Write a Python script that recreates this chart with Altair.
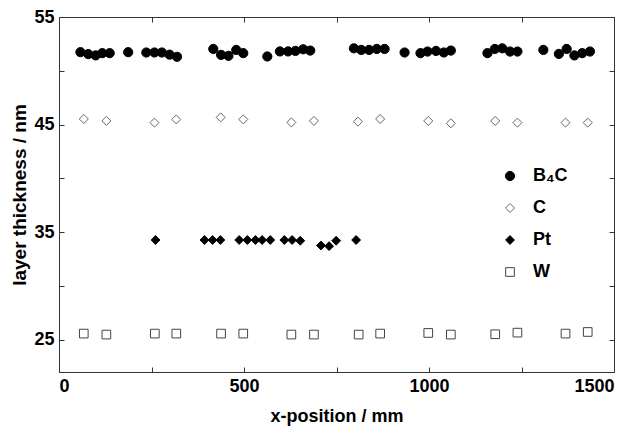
import altair as alt
import pandas as pd

# ---- data ----
b4c_x = [58, 79, 99, 117, 137, 187, 236, 258, 278, 299, 319,
         417, 438, 458, 479, 498, 563, 597, 619, 639, 660, 679,
         797, 817, 838, 859, 880, 934, 977, 996, 1019, 1040, 1059,
         1158, 1178, 1198, 1219, 1239, 1309, 1351, 1372, 1393, 1414, 1435]
b4c_y = [51.73, 51.55, 51.43, 51.64, 51.64, 51.73, 51.70, 51.70, 51.70, 51.50, 51.30,
         52.03, 51.48, 51.39, 51.94, 51.64, 51.33, 51.80, 51.80, 51.85, 52.00, 51.88,
         52.09, 51.94, 51.94, 52.03, 52.03, 51.70, 51.64, 51.79, 51.85, 51.70, 51.88,
         51.64, 52.03, 52.09, 51.79, 51.79, 51.94, 51.57, 52.03, 51.43, 51.64, 51.79]

c_x = [67, 128, 258, 317, 437, 498, 628, 689, 808, 868, 998, 1059, 1179, 1239, 1369, 1429]
c_y = [45.52, 45.34, 45.18, 45.48, 45.67, 45.48, 45.20, 45.34,
       45.27, 45.52, 45.34, 45.12, 45.34, 45.18, 45.18, 45.18]

pt_x = [261, 393, 415, 436, 487, 509, 531, 549, 571, 609, 630, 652, 708, 730, 749, 803]
pt_y = [34.27, 34.27, 34.27, 34.27, 34.27, 34.27, 34.27, 34.27, 34.27, 34.27, 34.27, 34.20,
        33.76, 33.70, 34.20, 34.27]

w_x = [67, 128, 259, 317, 438, 498, 628, 689, 810, 868, 998, 1059, 1179, 1239, 1369, 1429]
w_y = [25.57, 25.48, 25.57, 25.57, 25.57, 25.57, 25.48, 25.48,
       25.48, 25.57, 25.63, 25.48, 25.51, 25.66, 25.57, 25.72]

series = ["B\u2084C", "C", "Pt", "W"]
x_label_values = [0, 500, 1000, 1500]
x_tick_values = [0, 250, 500, 750, 1000, 1250, 1500]
y_label_values = [25, 35, 45, 55]
y_tick_values = [25, 30, 35, 40, 45, 50, 55]

rows = []
for name, xs, ys in zip(series, [b4c_x, c_x, pt_x, w_x], [b4c_y, c_y, pt_y, w_y]):
    for a, b in zip(xs, ys):
        rows.append({"series": name, "x": a, "y": b})
df = pd.DataFrame(rows)

W, H = 555, 355
FONT = "Liberation Sans"
xscale = alt.Scale(domain=[0, 1500], nice=False, zero=False)
yscale = alt.Scale(domain=[22, 55], nice=False, zero=False)

main = alt.Chart(df).mark_point(opacity=1, strokeWidth=1).encode(
    x=alt.X("x:Q", scale=xscale, axis=alt.Axis(
        orient="bottom", values=x_label_values, ticks=False, domain=False, grid=False,
        title="x-position / mm", labelFont=FONT, labelFontSize=18, labelFontWeight="bold",
        labelColor="black", labelPadding=5, titleFont=FONT, titleFontSize=18,
        titleFontWeight="bold", titleColor="black", titlePadding=12, format="d")),
    y=alt.Y("y:Q", scale=yscale, axis=alt.Axis(
        orient="left", values=y_label_values, ticks=False, domain=False, grid=False,
        title="layer thickness / nm", labelFont=FONT, labelFontSize=18, labelFontWeight="bold",
        labelColor="black", labelPadding=5, titleFont=FONT, titleFontSize=19,
        titleFontWeight="bold", titleColor="black", titlePadding=4)),
    shape=alt.Shape("series:N", scale=alt.Scale(domain=series, range=["circle", "diamond", "diamond", "square"]),
                    legend=alt.Legend(title=None)),
    fill=alt.Fill("series:N", scale=alt.Scale(domain=series, range=["#000000", "#ffffff", "#000000", "#ffffff"]),
                  legend=alt.Legend(title=None)),
    stroke=alt.Stroke("series:N", scale=alt.Scale(domain=series, range=["#000000", "#666666", "#000000", "#444444"]),
                      legend=alt.Legend(title=None)),
    size=alt.Size("series:N", scale=alt.Scale(domain=series, range=[85, 75, 115, 64]),
                  legend=alt.Legend(title=None)),
)

def tick_layer(xorient, xoff, yorient, yoff):
    return alt.Chart(df).mark_point(opacity=0).encode(
        x=alt.X("x:Q", scale=xscale, axis=alt.Axis(
            orient=xorient, offset=xoff, values=x_tick_values, labels=False, domain=False,
            grid=False, ticks=True, tickSize=5, tickColor="#333333", title=None)),
        y=alt.Y("y:Q", scale=yscale, axis=alt.Axis(
            orient=yorient, offset=yoff, values=y_tick_values, labels=False, domain=False,
            grid=False, ticks=True, tickSize=5, tickColor="#333333", title=None)),
    )

chart = alt.layer(
    main,
    tick_layer("top", -H, "right", -W),
    tick_layer("bottom", -H, "left", -W),
).resolve_axis(x="independent", y="independent").properties(
    width=W, height=H,
    autosize=alt.AutoSizeParams(type="none"),
    padding={"left": 51, "top": 9, "right": 18, "bottom": 56},
).configure_view(stroke="#333333", strokeWidth=1).configure_legend(
    orient="none", legendX=442, legendY=150, labelFont=FONT, labelFontSize=18,
    labelFontWeight="bold", labelColor="black", rowPadding=14, labelOffset=14,
    symbolStrokeWidth=1, padding=0
)

chart.save("out.html", embed_options={"renderer": "svg", "actions": False})
